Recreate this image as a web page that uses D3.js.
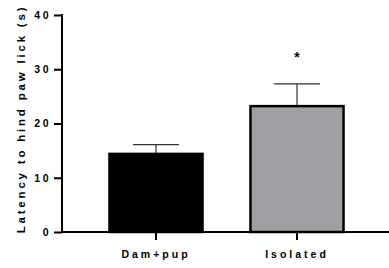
<!DOCTYPE html>
<html lang="en">
<meta charset="utf-8">
<style>
body { margin: 0; background: #fff; }
text { font-family: "Liberation Sans", Arial, sans-serif; font-weight: bold; }
</style>
<body>
<script src="https://d3js.org/d3.v7.min.js"></script>
<script>
// data
var groups = ["Dam+pup", "Isolated"];
var means = [14.4, 23.2];
var sems = [1.7, 4.1];
var fills = ["#000000", "#a09fa4"];
var yTicks = [0, 10, 20, 30, 40];
var yLabel = "Latency to hind paw lick (s)";

var W = 389, H = 268;
var plotL = 62, plotR = 389, plotT = 15, plotB = 232;

var svg = d3.select("body").append("svg")
    .attr("width", W)
    .attr("height", H);

var y = d3.scaleLinear().domain([0, 40]).range([plotB, plotT]);
var x = d3.scaleBand().domain(groups).range([85.5, 367.5]).paddingInner(0.34).paddingOuter(0.17);

// bars
svg.selectAll(".bar")
    .data(groups)
  .enter().append("rect")
    .attr("x", function(d) { return x(d); })
    .attr("y", function(d, i) { return y(means[i]); })
    .attr("width", x.bandwidth())
    .attr("height", function(d, i) { return y(0) - y(means[i]); })
    .attr("fill", function(d, i) { return fills[i]; })
    .attr("stroke", "#000")
    .attr("stroke-width", 2.5);

// error bars (upper only)
groups.forEach(function(g, i) {
  var cx = x(g) + x.bandwidth() / 2;
  svg.append("line")
      .attr("x1", cx).attr("x2", cx)
      .attr("y1", y(means[i]) - 1).attr("y2", y(means[i] + sems[i]))
      .attr("stroke", "#333").attr("stroke-width", 1.2);
  svg.append("line")
      .attr("x1", cx - 23).attr("x2", cx + 23)
      .attr("y1", y(means[i] + sems[i])).attr("y2", y(means[i] + sems[i]))
      .attr("stroke", "#333").attr("stroke-width", 1.2);
});

// significance star
svg.append("text")
    .attr("x", x("Isolated") + x.bandwidth() / 2)
    .attr("y", 62)
    .attr("text-anchor", "middle")
    .style("font-size", "14px")
    .text("*");

// y axis
var yAxis = svg.append("g")
    .attr("transform", "translate(" + plotL + ",0)")
    .call(d3.axisLeft(y).tickValues(yTicks).tickSize(8).tickPadding(3));
yAxis.select(".domain").attr("stroke-width", 2).attr("d", "M0," + (plotT - 1) + "V" + (plotB + 1));
yAxis.selectAll(".tick line").attr("stroke-width", 2);
yAxis.selectAll(".tick text")
    .style("font-size", "10.5px")
    .style("letter-spacing", "2.5px")
    .attr("fill", "#000");

// x axis
var xAxis = svg.append("g")
    .attr("transform", "translate(0," + plotB + ")")
    .call(d3.axisBottom(x).tickSize(8).tickPadding(11));
xAxis.select(".domain").attr("stroke-width", 2).attr("d", "M" + (plotL - 1) + ",0H" + plotR);
xAxis.selectAll(".tick line").attr("stroke-width", 2);
xAxis.selectAll(".tick text")
    .style("font-size", "10.5px")
    .style("letter-spacing", "3px")
    .attr("fill", "#000");

// y label
svg.append("text")
    .attr("transform", "translate(25,119) rotate(-90)")
    .attr("text-anchor", "middle")
    .style("font-size", "11.5px")
    .style("letter-spacing", "2.8px")
    .text(yLabel);
</script>
</body>
</html>
